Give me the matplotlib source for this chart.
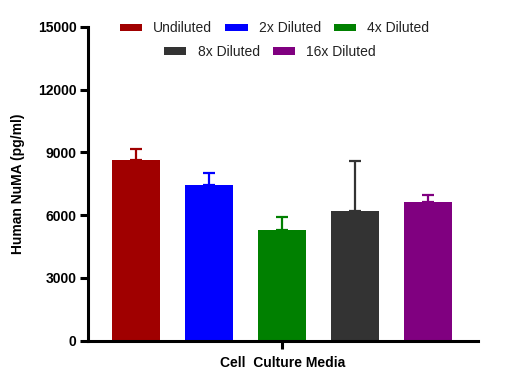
import matplotlib
matplotlib.use("Agg")
import matplotlib.pyplot as plt
from matplotlib.patches import Patch

plt.rcParams['font.family'] = ['Liberation Sans', 'DejaVu Sans']

categories = ["Undiluted", "2x Diluted", "4x Diluted", "8x Diluted", "16x Diluted"]
means = [8650, 7450, 5300, 6220, 6640]
upper_err = [510, 560, 600, 2350, 300]
colors = ["#A00000", "#0000FF", "#008000", "#333333", "#800080"]
y_ticks = [0, 3000, 6000, 9000, 12000, 15000]

fig = plt.figure(figsize=(5.28, 3.87), dpi=100)
ax = fig.add_axes([0.166, 0.1196, 0.739, 0.8114])

x = list(range(len(categories)))
for i in x:
    ax.bar(i, means[i], width=0.66, color=colors[i], zorder=2)
    ax.errorbar(i, means[i], yerr=[[0], [upper_err[i]]], fmt='none',
                ecolor=colors[i], elinewidth=1.6, capsize=4.5, capthick=1.6, zorder=1)

ax.set_xlim(-0.668, 4.678)
ax.set_ylim(0, 15000)
ax.set_yticks(y_ticks)
ax.set_yticklabels([str(v) for v in y_ticks], fontweight='bold', fontsize=10)
ax.set_xticks([2])
ax.set_xticklabels([""])
ax.spines['top'].set_visible(False)
ax.spines['right'].set_visible(False)
for s in ['left', 'bottom']:
    ax.spines[s].set_linewidth(2.2)
ax.tick_params(axis='both', width=2.2, length=6, direction='out', pad=2)
ax.set_ylabel("Human NuMA (pg/ml)", fontweight='bold', fontsize=10, labelpad=9)
ax.set_xlabel("Cell  Culture Media", fontweight='bold', fontsize=10, labelpad=3)

handles = [Patch(facecolor=c, edgecolor='none') for c in colors]
common = dict(frameon=False, fontsize=10, handlelength=1.6, handleheight=0.45,
              handletextpad=0.8, columnspacing=0.95, borderpad=0, borderaxespad=0,
              labelcolor='#222222')
leg1 = fig.legend(handles[:3], categories[:3], ncol=3, loc='center',
                  bbox_to_anchor=(274.7 / 528, 1 - 28.5 / 387), **common)
leg2 = fig.legend(handles[3:], categories[3:], ncol=2, loc='center',
                  bbox_to_anchor=(270 / 528, 1 - 52 / 387), **common)

fig.savefig("out.png", dpi=100)
